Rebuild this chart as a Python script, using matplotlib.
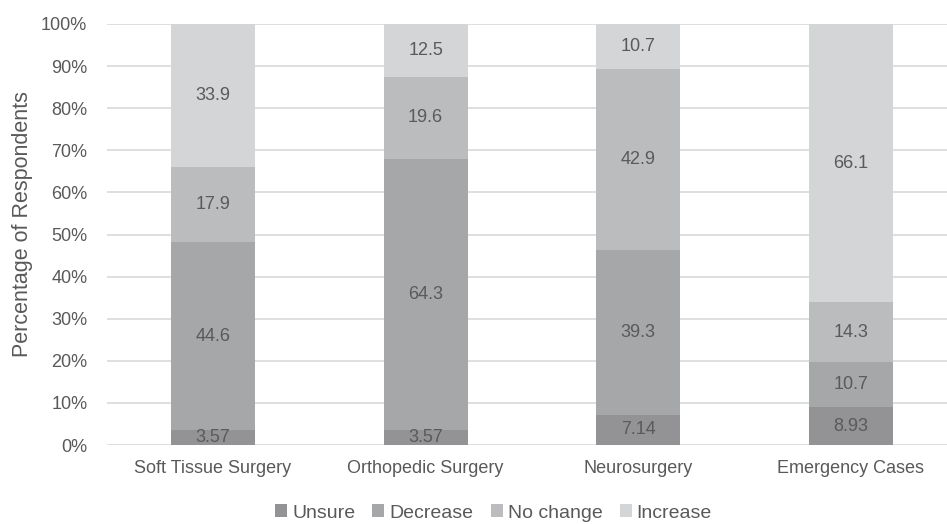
import matplotlib
matplotlib.use("Agg")
import matplotlib.pyplot as plt
import numpy as np
from matplotlib.ticker import FuncFormatter

categories = ["Soft Tissue Surgery", "Orthopedic Surgery", "Neurosurgery", "Emergency Cases"]
series_names = ["Unsure", "Decrease", "No change", "Increase"]
unsure = [3.57, 3.57, 7.14, 8.93]
decrease = [44.6, 64.3, 39.3, 10.7]
no_change = [17.9, 19.6, 42.9, 14.3]
increase = [33.9, 12.5, 10.7, 66.1]
colors = ["#939396", "#a6a7a9", "#bbbcbe", "#d4d5d7"]

plt.rcParams["font.family"] = ["Liberation Sans", "DejaVu Sans"]
text_color = "#595959"
fs = 13

fig = plt.figure(figsize=(9.47, 5.24), dpi=100)
W, H = 947, 524
left, right = 106.75, 957.0
top, bottom = 24.0, 445.0
ax = fig.add_axes([left / W, 1 - bottom / H, (right - left) / W, (bottom - top) / H])

series = [unsure, decrease, no_change, increase]
totals = np.sum(np.array(series), axis=0)
x = np.arange(len(categories))
base = np.zeros(len(categories))
for vals, name, col in zip(series, series_names, colors):
    vals = np.array(vals)
    heights = vals / totals * 100
    ax.bar(x, heights, bottom=base, width=84 / 212.5, color=col, label=name,
           zorder=2, linewidth=0)
    for xi, b, h, v in zip(x, base, heights, vals):
        ax.text(xi, b + h / 2, f"{v:g}", ha="center", va="center",
                fontsize=fs, color="#5a5a5a", zorder=3)
    base += heights

ax.set_xlim(-0.5, len(categories) - 0.5)
ax.set_ylim(0, 100)
ax.set_yticks(np.arange(0, 101, 10))
ax.yaxis.set_major_formatter(FuncFormatter(lambda v, p: f"{v:.0f}%"))
ax.set_xticks(x)
ax.set_xticklabels(categories)
ax.grid(axis="y", color="#d9d9d9", linewidth=1.2, zorder=0)
ax.set_axisbelow(True)
for s in ax.spines.values():
    s.set_visible(False)
ax.tick_params(axis="both", length=0, labelsize=fs, colors=text_color)
ax.tick_params(axis="y", pad=14)
ax.tick_params(axis="x", pad=11)

# axis title, placed in figure pixel coordinates
fig.text(23 / W, 1 - 224.5 / H, "Percentage of Respondents", rotation=90,
         ha="center", va="center", fontsize=15.5, color=text_color)

handles, labels = ax.get_legend_handles_labels()
fig.legend(handles, labels, loc="center", bbox_to_anchor=(493.5 / W, 1 - 513 / H),
           ncol=4, frameon=False, fontsize=14, handlelength=0.62, handleheight=0.62,
           handletextpad=0.26, columnspacing=0.88, labelcolor=text_color)

fig.savefig("out.png", dpi=100)
